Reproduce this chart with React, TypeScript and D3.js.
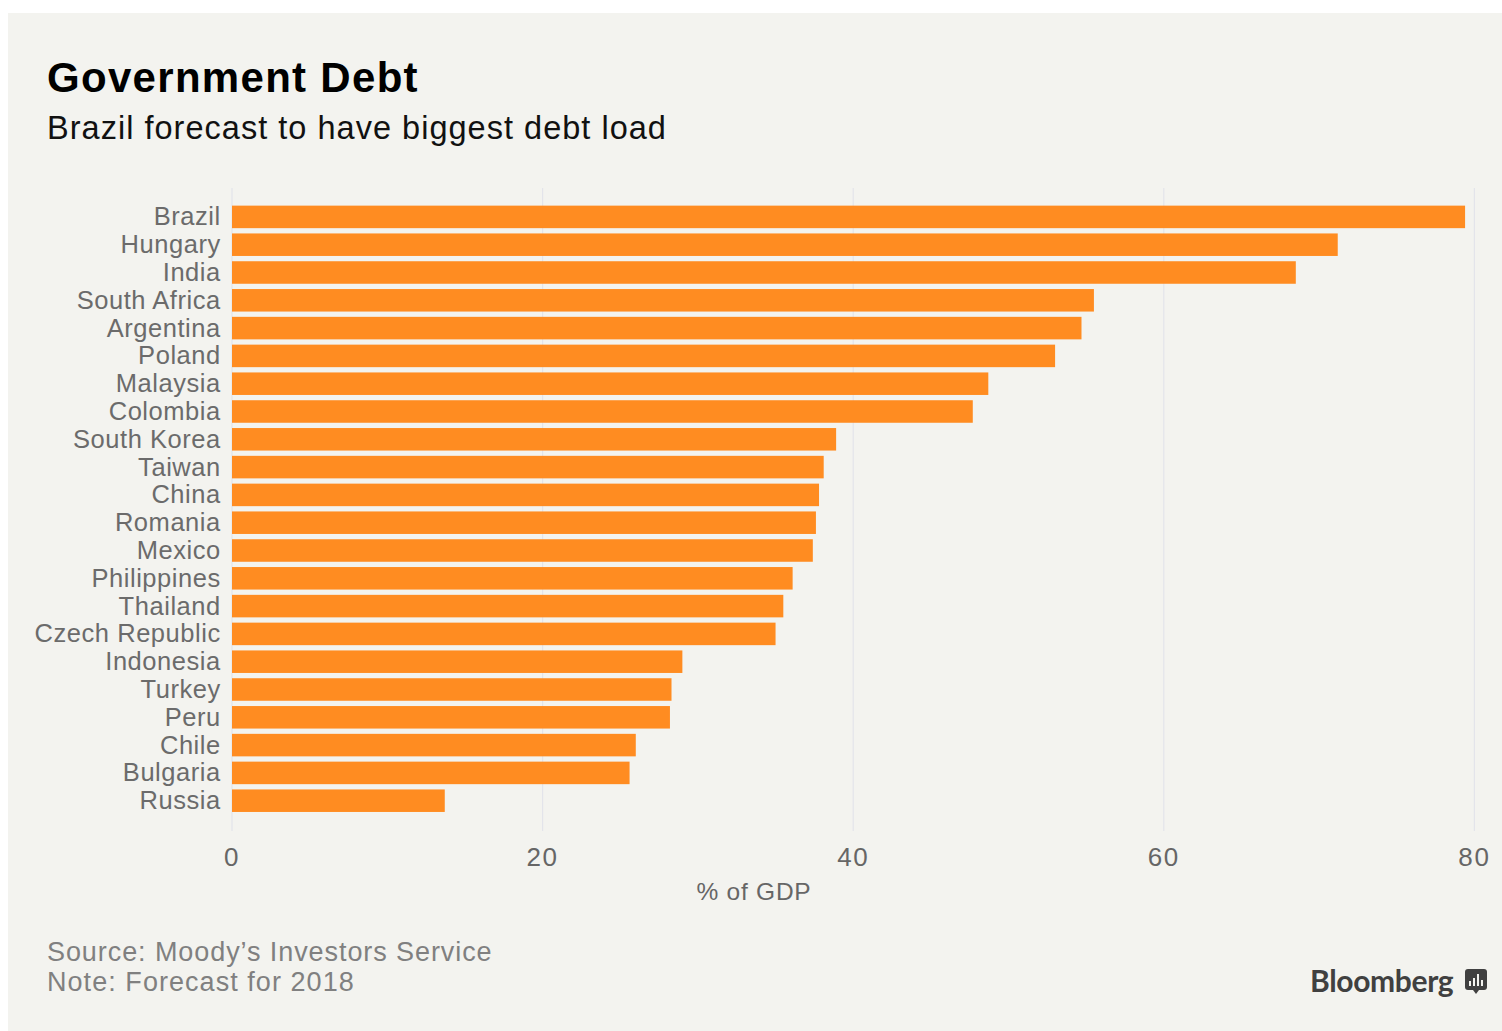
import React from "react";
import * as d3 from "d3";

const countries = ["Brazil","Hungary","India","South Africa","Argentina","Poland","Malaysia","Colombia","South Korea","Taiwan","China","Romania","Mexico","Philippines","Thailand","Czech Republic","Indonesia","Turkey","Peru","Chile","Bulgaria","Russia"];
const debtShare = [79.4,71.2,68.5,55.5,54.7,53,48.7,47.7,38.9,38.1,37.8,37.6,37.4,36.1,35.5,35,29,28.3,28.2,26,25.6,13.7];
const xTicks = [0,20,40,60,80];

const FONT = "'Liberation Sans', Arial, sans-serif";

export default function App() {
  const x = d3.scaleLinear().domain([0, 80]).range([232, 1474.4]);
  const y = d3.scaleBand<string>().domain(countries).range([203, 814.6]).paddingInner(0.19).paddingOuter(0.095);

  return (
    <svg width={1502} height={1031} style={{ position: "absolute", left: 0, top: 0, display: "block" }} fontFamily={FONT}>
      <rect x={0} y={0} width={1502} height={1031} fill="#ffffff" />
      <rect x={8} y={13} width={1494} height={1018} fill="#f3f3ef" />

      <text x={47} y={92} fontSize={42} fontWeight={700} fill="#000" letterSpacing={1.3}>Government Debt</text>
      <text x={47} y={139} fontSize={32.5} fill="#111" letterSpacing={1.02}>Brazil forecast to have biggest debt load</text>

      {xTicks.map((t) => (
        <g key={t}>
          <line x1={x(t)} x2={x(t)} y1={188} y2={831} stroke="#e3e4ea" strokeWidth={1.2} />
          <text x={x(t)} y={866} fontSize={26} fill="#666" textAnchor="middle" letterSpacing={1.6}>{t}</text>
        </g>
      ))}

      {countries.map((c, i) => (
        <g key={c}>
          <rect x={x(0)} y={y(c)} width={x(debtShare[i]) - x(0)} height={y.bandwidth()} fill="#ff8c21" />
          <text x={220.8} y={(y(c) as number) + y.bandwidth() / 2 + 8.5} fontSize={25.5} fill="#6b6b6b" textAnchor="end" letterSpacing={0.55}>{c}</text>
        </g>
      ))}

      <text x={754} y={900} fontSize={24.5} fill="#666" textAnchor="middle" letterSpacing={0.75}>% of GDP</text>

      <text x={47} y={961} fontSize={27} fill="#808080" letterSpacing={0.92}>Source: Moody’s Investors Service</text>
      <text x={47} y={991} fontSize={27} fill="#808080" letterSpacing={1.05}>Note: Forecast for 2018</text>

      <text x={1310} y={991.5} fontSize={30} fontFamily="Lato, sans-serif" fontWeight={700} fill="#404040" letterSpacing={-0.35}>Bloomberg</text>
      <g>
        <rect x={1465} y={969} width={22} height={21} rx={3} fill="#404040" />
        <path d="M1473 990 L1476 994 L1479 990 Z" fill="#404040" />
        {[[1469,981,5],[1473,978,8],[1477,974,12],[1481,980,6]].map(([bx, by, bh]) => (
          <rect key={bx} x={bx} y={by} width={2} height={bh} fill="#f3f3ef" />
        ))}
      </g>
    </svg>
  );
}
